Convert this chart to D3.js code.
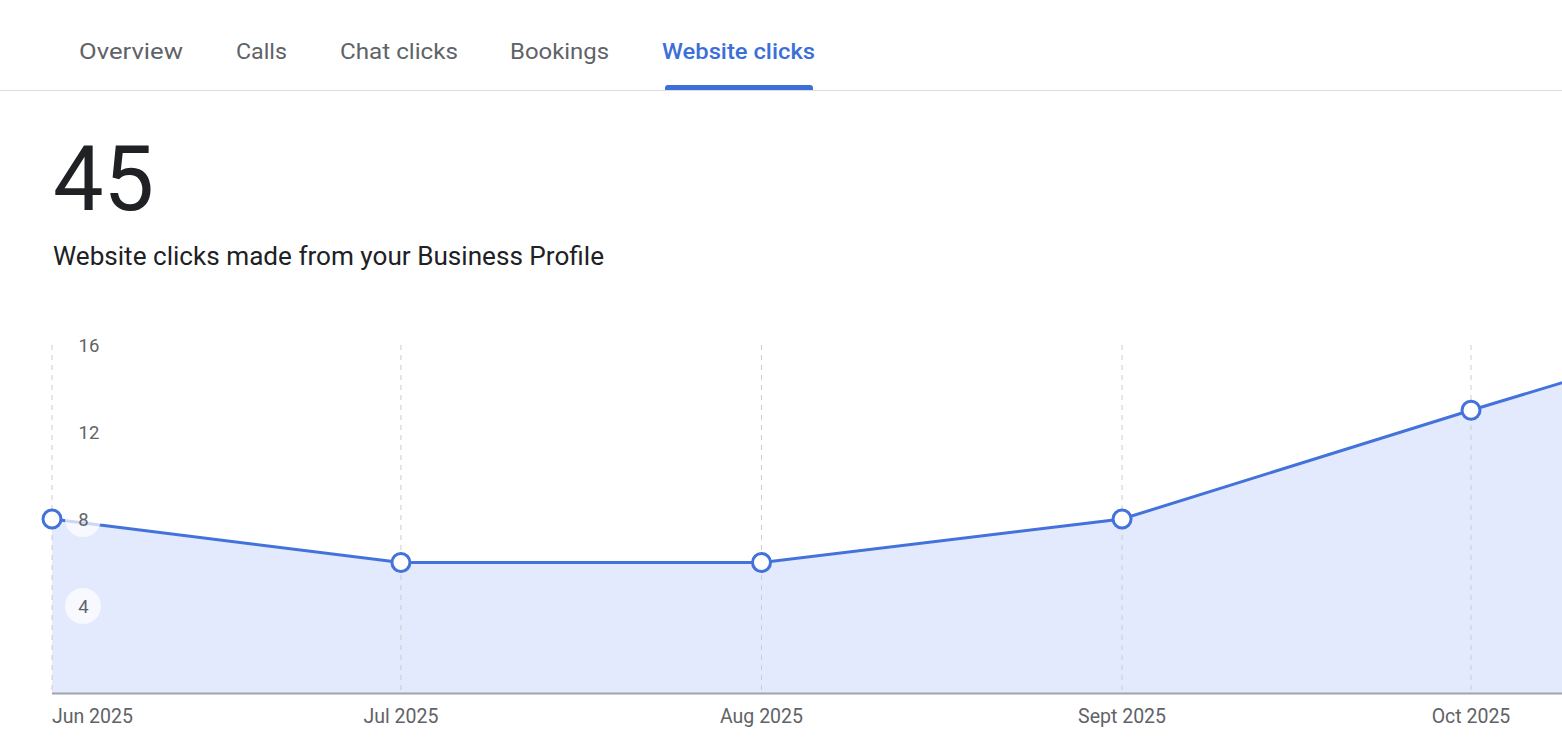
<!DOCTYPE html>
<html><head><meta charset="utf-8">
<script src="https://cdn.jsdelivr.net/npm/d3@7"></script>
<style>
html,body{margin:0;padding:0;background:#fff;overflow:hidden;}
svg{display:block;font-family:Roboto,"Noto Sans",sans-serif;}
</style></head>
<body><svg id="c" width="1562" height="753"></svg>
<script>
const tabs = ["Overview","Calls","Chat clicks","Bookings","Website clicks"];
const tabX = [79,236,340,510,662];
const tabW = [104,51,118,99,153];
const activeTab = 4;
const total = "45";
const subtitle = "Website clicks made from your Business Profile";
const months = ["2025-06-01","2025-07-01","2025-08-01","2025-09-01","2025-10-01","2025-11-01"];
const values = [8,6,6,8,13,18];
const monthLabels = ["Jun 2025","Jul 2025","Aug 2025","Sept 2025","Oct 2025"];
const yTicks = [4,8,12,16];

const svg = d3.select("#c");
const blue = "#4372db";

// Tabs
svg.append("line").attr("x1",0).attr("x2",1562).attr("y1",90.5).attr("y2",90.5)
  .attr("stroke","#dadce0").attr("stroke-width",1);
tabs.forEach((t,i)=>{
  svg.append("text").attr("x",tabX[i]).attr("y",59).text(t)
    .attr("font-size",22).attr("font-weight",i===activeTab?500:400)
    .attr("textLength",tabW[i]).attr("lengthAdjust","spacingAndGlyphs")
    .attr("fill",i===activeTab?"#3c6fd8":"#5f6368");
  if(i===activeTab){
    const x0 = tabX[i]+3, x1 = tabX[i]+tabW[i]-2;
    svg.append("path").attr("d",`M${x0},90 L${x0},88 Q${x0},85 ${x0+3},85 L${x1-3},85 Q${x1},85 ${x1},88 L${x1},90 Z`)
      .attr("fill","#3c6fd8");
  }
});

svg.append("text").attr("x",53).attr("y",210).text(total)
  .attr("font-size",90).attr("fill","#202124");
svg.append("text").attr("x",53).attr("y",265).text(subtitle)
  .attr("font-size",25).attr("fill","#202124")
  .attr("textLength",551).attr("lengthAdjust","spacingAndGlyphs");

const dates = months.map(d=>new Date(d+"T00:00:00Z"));
const x = d3.scaleUtc().domain([dates[0],dates[4]]).range([52,1471]);
const y = d3.scaleLinear().domain([0,16]).range([693,345]);
const data = dates.map((d,i)=>({d, v:values[i]}));

svg.append("defs").append("clipPath").attr("id","clip")
  .append("rect").attr("x",30).attr("y",300).attr("width",1532).attr("height",400);

const g = svg.append("g").attr("clip-path","url(#clip)");

g.append("path").datum(data)
  .attr("d",d3.area().x(d=>x(d.d)).y0(y(0)).y1(d=>y(d.v)))
  .attr("fill","#e3eafd");

g.selectAll(".grid").data(dates.slice(0,5)).join("line")
  .attr("x1",d=>x(d)).attr("x2",d=>x(d)).attr("y1",y(16)).attr("y2",y(0))
  .attr("stroke","#c9ccd1").attr("stroke-width",1).attr("stroke-dasharray","5,5");

g.append("path").datum(data)
  .attr("d",d3.line().x(d=>x(d.d)).y(d=>y(d.v)))
  .attr("fill","none").attr("stroke",blue).attr("stroke-width",3);

svg.append("line").attr("x1",52).attr("x2",1562).attr("y1",y(0)+0.5).attr("y2",y(0)+0.5)
  .attr("stroke","#a0a4aa").attr("stroke-width",2);

g.selectAll(".pt").data(data.slice(0,5)).join("circle")
  .attr("cx",d=>x(d.d)).attr("cy",d=>y(d.v)).attr("r",9)
  .attr("fill","#fff").attr("stroke",blue).attr("stroke-width",3);

const yl = svg.append("g");
yl.selectAll("circle").data(yTicks).join("circle")
  .attr("cx",83).attr("cy",d=>y(d)).attr("r",18)
  .attr("fill","#fff").attr("fill-opacity",0.72);
yl.selectAll("text").data(yTicks).join("text")
  .attr("x",d=>d>=10?78.5:83.5).attr("y",d=>y(d)).attr("dy","0.36em")
  .attr("text-anchor",d=>d>=10?"start":"middle")
  .attr("font-size",18.5).attr("fill","#5f6368").text(d=>d);

svg.selectAll(".xl").data(monthLabels).join("text")
  .attr("x",(d,i)=>x(dates[i])).attr("y",723)
  .attr("text-anchor",(d,i)=>i===0?"start":"middle")
  .attr("font-size",19.5).attr("fill","#5f6368").text(d=>d);
</script></body></html>
